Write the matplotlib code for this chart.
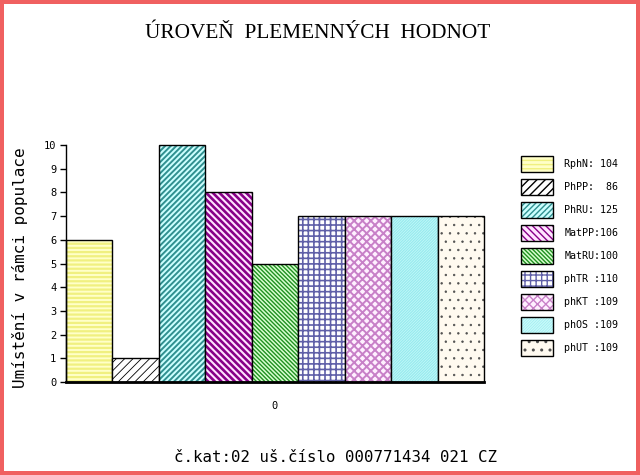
import numpy as np
import matplotlib
matplotlib.use("Agg")
import matplotlib.pyplot as plt
from matplotlib.legend_handler import HandlerTuple

# data
names = ["RphN: 104", "PhPP:  86", "PhRU: 125", "MatPP:106", "MatRU:100",
         "phTR :110", "phKT :109", "phOS :109", "phUT :109"]
values = [6, 1, 10, 8, 5, 7, 7, 7, 7]
title = "ÚROVEŇ  PLEMENNÝCH  HODNOT"
ylabel = "Umístění v rámci populace"
footer = "č.kat:02 uš.číslo 000771434 021 CZ"

# fill styles (face, hatch colour, hatch, hatch width)
faces = ["#ffffc8", "#ffffff", "#ccffff", "#ffe4ff", "#d8ffd0",
         "#ffffff", "#fff0ff", "#98eaee", "#fffaf0"]
hcols = ["#f0f080", "#000000", "#309090", "#880088", "#209020",
         "#6060a8", "#c880c8", "#c8fafa", "#505050"]
hatches = ["----", "////", "//////", "\\" * 5, "\\" * 8, "+++", "xxxx", "/" * 12, ".."]
hlws = [1.6, 0.6, 1.4, 1.9, 1.0, 1.2, 1.4, 0.5, 0.5]

mono = "DejaVu Sans Mono"

fig = plt.figure(figsize=(6.4, 4.75), dpi=100)
fig.patch.set_facecolor("white")
fig.patch.set_edgecolor("#f06060")
fig.patch.set_linewidth(4.5)

ax = fig.add_axes([66/640, 93/475, (484-66)/640, (382-145)/475])
x = np.arange(len(values))
handles = []
for i in range(len(values)):
    with plt.rc_context({"hatch.linewidth": hlws[i]}):
        b1 = ax.bar(x[i], values[i], width=1.0, color=faces[i], edgecolor=hcols[i],
                    hatch=hatches[i], linewidth=0, clip_on=False)
    b2 = ax.bar(x[i], values[i], width=1.0, fill=False, edgecolor="black",
                linewidth=1.0, clip_on=False)
    handles.append((b1[0], b2[0]))

ax.set_xlim(-0.5, len(values) - 0.5)
ax.set_ylim(0, 10)
ax.spines["top"].set_visible(False)
ax.spines["right"].set_visible(False)
ax.spines["bottom"].set_linewidth(2)
ax.spines["left"].set_linewidth(1)
ax.set_yticks(range(0, 11))
ax.tick_params(axis="y", length=4, width=1, labelsize=7.5, pad=3)
for t in ax.get_yticklabels():
    t.set_fontfamily(mono)
ax.set_xticks([(len(values) - 1) / 2])
ax.set_xticklabels(["0"], fontfamily=mono, fontsize=7.5)
ax.tick_params(axis="x", length=0, pad=14)

fig.text(20/640, 1 - 268/475, ylabel, rotation=90, ha="center", va="center",
         fontfamily=mono, fontsize=11.5)
fig.text(318/640, 1 - 33/475, title, ha="center", va="center",
         fontfamily="Liberation Serif", fontsize=15.3)
fig.text(335/640, 1 - 457/475, footer, ha="center", va="center",
         fontfamily=mono, fontsize=11.3)

fig.legend(handles, names, handler_map={tuple: HandlerTuple(ndivide=1, pad=0)},
           loc="upper left", bbox_to_anchor=(521/640, 1 - 156/475),
           frameon=False, borderpad=0, borderaxespad=0,
           handlelength=3.2, handleheight=2.08, labelspacing=0.7, handletextpad=1.15,
           prop={"family": mono, "size": 7.2})

fig.savefig("out.png", dpi=100)
